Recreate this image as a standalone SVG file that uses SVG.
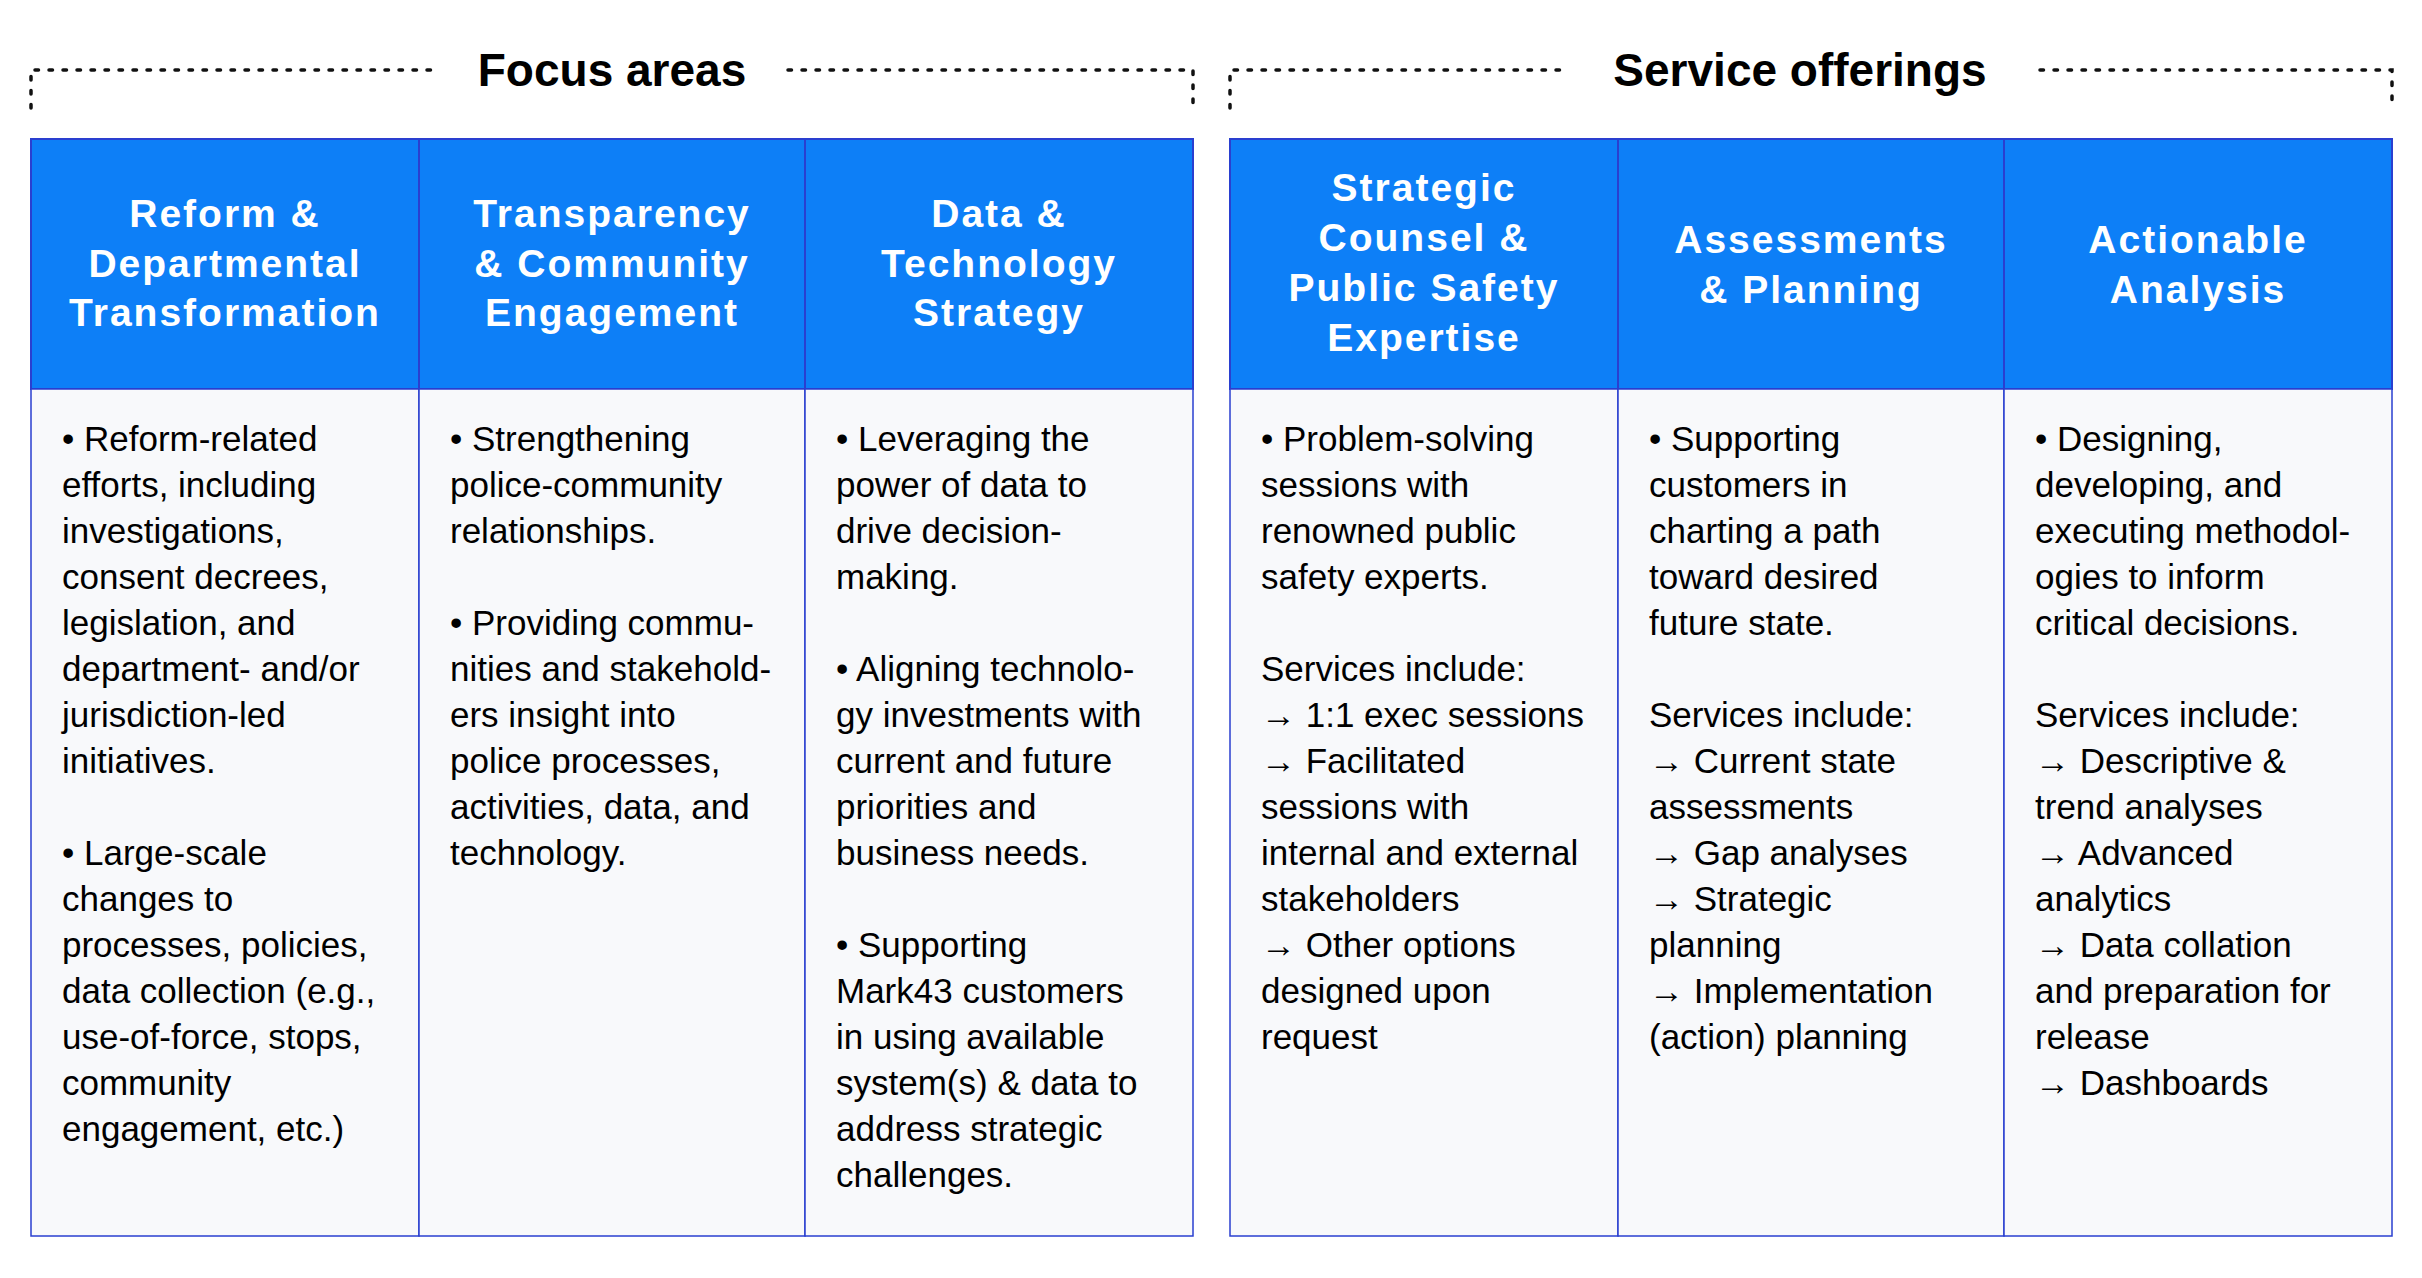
<svg xmlns="http://www.w3.org/2000/svg" width="2422" height="1278" viewBox="0 0 2422 1278">
<style>
.dot{stroke:#111;stroke-width:3.5;stroke-dasharray:3.5 10.5;fill:none;stroke-linecap:round}
.title{font-family:"Liberation Sans",Arial,sans-serif;font-weight:bold;font-size:46px;fill:#000;text-anchor:middle}
.hd{fill:#0d7ff7;stroke:#2a3fd0;stroke-width:2}
.bd{fill:#f8f9fb;stroke:#2a3fd0;stroke-width:1.5}
.ht{font-family:"Liberation Sans",Arial,sans-serif;font-weight:bold;font-size:39px;fill:#fff;text-anchor:middle;letter-spacing:2px}
.bt{font-family:"Liberation Sans",Arial,sans-serif;font-size:35px;fill:#000}
</style>
<rect width="2422" height="1278" fill="#fff"/>
<g id="frames">
<path class="dot" d="M31,108 V70 H440 M788,70 H1193 V108"/>
<path class="dot" d="M1230,108 V70 H1568 M2040,70 H2392 V108"/>
<text class="title" x="612" y="86">Focus areas</text>
<text class="title" x="1800" y="86">Service offerings</text>
</g>
<g id="col1">
<rect class="hd" x="31" y="139" width="388" height="250"/><rect class="bd" x="31" y="389" width="388" height="847"/>
<text class="ht"><tspan x="225" y="227">Reform &amp;</tspan><tspan x="225" y="277">Departmental</tspan><tspan x="225" y="326">Transformation</tspan></text>
<text class="bt"><tspan x="62" y="451">• Reform-related</tspan><tspan x="62" dy="46">efforts, including</tspan><tspan x="62" dy="46">investigations,</tspan><tspan x="62" dy="46">consent decrees,</tspan><tspan x="62" dy="46">legislation, and</tspan><tspan x="62" dy="46">department- and/or</tspan><tspan x="62" dy="46">jurisdiction-led</tspan><tspan x="62" dy="46">initiatives.</tspan><tspan x="62" dy="92">• Large-scale</tspan><tspan x="62" dy="46">changes to</tspan><tspan x="62" dy="46">processes, policies,</tspan><tspan x="62" dy="46">data collection (e.g.,</tspan><tspan x="62" dy="46">use-of-force, stops,</tspan><tspan x="62" dy="46">community</tspan><tspan x="62" dy="46">engagement, etc.)</tspan></text>
</g>
<g id="col2">
<rect class="hd" x="419" y="139" width="386" height="250"/><rect class="bd" x="419" y="389" width="386" height="847"/>
<text class="ht"><tspan x="612" y="227">Transparency</tspan><tspan x="612" y="277">&amp; Community</tspan><tspan x="612" y="326">Engagement</tspan></text>
<text class="bt"><tspan x="450" y="451">• Strengthening</tspan><tspan x="450" dy="46">police-community</tspan><tspan x="450" dy="46">relationships.</tspan><tspan x="450" dy="92">• Providing commu-</tspan><tspan x="450" dy="46">nities and stakehold-</tspan><tspan x="450" dy="46">ers insight into</tspan><tspan x="450" dy="46">police processes,</tspan><tspan x="450" dy="46">activities, data, and</tspan><tspan x="450" dy="46">technology.</tspan></text>
</g>
<g id="col3">
<rect class="hd" x="805" y="139" width="388" height="250"/><rect class="bd" x="805" y="389" width="388" height="847"/>
<text class="ht"><tspan x="999" y="227">Data &amp;</tspan><tspan x="999" y="277">Technology</tspan><tspan x="999" y="326">Strategy</tspan></text>
<text class="bt"><tspan x="836" y="451">• Leveraging the</tspan><tspan x="836" dy="46">power of data to</tspan><tspan x="836" dy="46">drive decision-</tspan><tspan x="836" dy="46">making.</tspan><tspan x="836" dy="92">• Aligning technolo-</tspan><tspan x="836" dy="46">gy investments with</tspan><tspan x="836" dy="46">current and future</tspan><tspan x="836" dy="46">priorities and</tspan><tspan x="836" dy="46">business needs.</tspan><tspan x="836" dy="92">• Supporting</tspan><tspan x="836" dy="46">Mark43 customers</tspan><tspan x="836" dy="46">in using available</tspan><tspan x="836" dy="46">system(s) &amp; data to</tspan><tspan x="836" dy="46">address strategic</tspan><tspan x="836" dy="46">challenges.</tspan></text>
</g>
<g id="col4">
<rect class="hd" x="1230" y="139" width="388" height="250"/><rect class="bd" x="1230" y="389" width="388" height="847"/>
<text class="ht"><tspan x="1424" y="201">Strategic</tspan><tspan x="1424" y="251">Counsel &amp;</tspan><tspan x="1424" y="301">Public Safety</tspan><tspan x="1424" y="351">Expertise</tspan></text>
<text class="bt"><tspan x="1261" y="451">• Problem-solving</tspan><tspan x="1261" dy="46">sessions with</tspan><tspan x="1261" dy="46">renowned public</tspan><tspan x="1261" dy="46">safety experts.</tspan><tspan x="1261" dy="92">Services include:</tspan><tspan x="1261" dy="46">→ 1:1 exec sessions</tspan><tspan x="1261" dy="46">→ Facilitated</tspan><tspan x="1261" dy="46">sessions with</tspan><tspan x="1261" dy="46">internal and external</tspan><tspan x="1261" dy="46">stakeholders</tspan><tspan x="1261" dy="46">→ Other options</tspan><tspan x="1261" dy="46">designed upon</tspan><tspan x="1261" dy="46">request</tspan></text>
</g>
<g id="col5">
<rect class="hd" x="1618" y="139" width="386" height="250"/><rect class="bd" x="1618" y="389" width="386" height="847"/>
<text class="ht"><tspan x="1811" y="253">Assessments</tspan><tspan x="1811" y="303">&amp; Planning</tspan></text>
<text class="bt"><tspan x="1649" y="451">• Supporting</tspan><tspan x="1649" dy="46">customers in</tspan><tspan x="1649" dy="46">charting a path</tspan><tspan x="1649" dy="46">toward desired</tspan><tspan x="1649" dy="46">future state.</tspan><tspan x="1649" dy="92">Services include:</tspan><tspan x="1649" dy="46">→ Current state</tspan><tspan x="1649" dy="46">assessments</tspan><tspan x="1649" dy="46">→ Gap analyses</tspan><tspan x="1649" dy="46">→ Strategic</tspan><tspan x="1649" dy="46">planning</tspan><tspan x="1649" dy="46">→ Implementation</tspan><tspan x="1649" dy="46">(action) planning</tspan></text>
</g>
<g id="col6">
<rect class="hd" x="2004" y="139" width="388" height="250"/><rect class="bd" x="2004" y="389" width="388" height="847"/>
<text class="ht"><tspan x="2198" y="253">Actionable</tspan><tspan x="2198" y="303">Analysis</tspan></text>
<text class="bt"><tspan x="2035" y="451">• Designing,</tspan><tspan x="2035" dy="46">developing, and</tspan><tspan x="2035" dy="46">executing methodol-</tspan><tspan x="2035" dy="46">ogies to inform</tspan><tspan x="2035" dy="46">critical decisions.</tspan><tspan x="2035" dy="92">Services include:</tspan><tspan x="2035" dy="46">→ Descriptive &amp;</tspan><tspan x="2035" dy="46">trend analyses</tspan><tspan x="2035" dy="46">→ Advanced</tspan><tspan x="2035" dy="46">analytics</tspan><tspan x="2035" dy="46">→ Data collation</tspan><tspan x="2035" dy="46">and preparation for</tspan><tspan x="2035" dy="46">release</tspan><tspan x="2035" dy="46">→ Dashboards</tspan></text>
</g>
<g id="connectors"/>
</svg>
